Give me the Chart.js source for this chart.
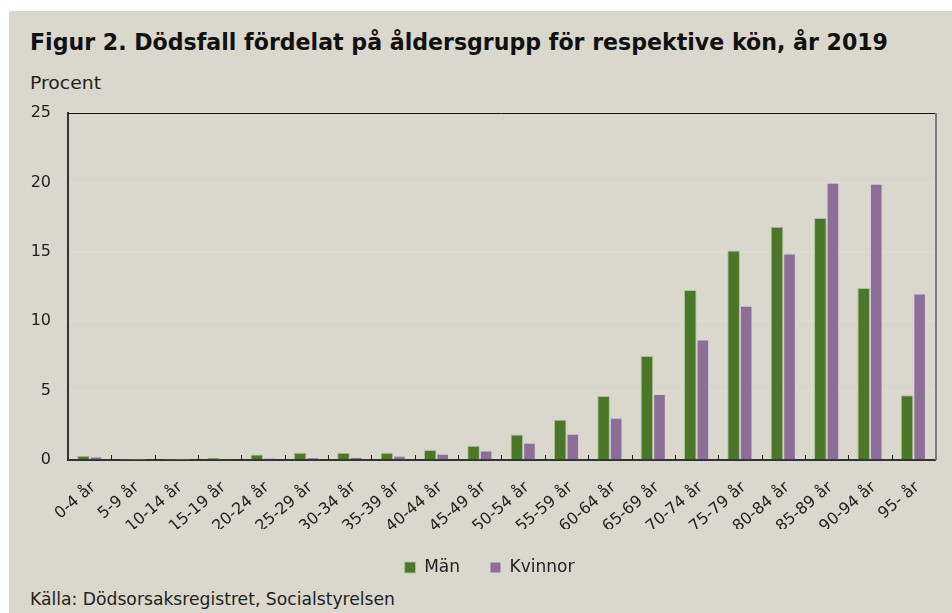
<!DOCTYPE html>
<html>
<head>
<meta charset="utf-8">
<script src="https://cdn.jsdelivr.net/npm/chart.js@4.4.1/dist/chart.umd.min.js"></script>
<style>
  html, body { margin: 0; padding: 0; background: #fff; }
  body { width: 952px; height: 613px; position: relative; overflow: hidden;
         font-family: "DejaVu Sans", sans-serif; color: #222; }
  .bg { position: absolute; left: 9px; top: 11px; right: 0; bottom: 0; background: #dad8cc; }
  .txt { position: absolute; white-space: nowrap; transform-origin: 0 0; line-height: 1; }
  #title { left: 30px; top: 31px; font-size: 23px; font-weight: bold; color: #111; }
  #unit { left: 30px; top: 75px; font-size: 17px; }
  #source { left: 30px; top: 591px; font-size: 17px; }
  canvas { position: absolute; left: 0; top: 0; }
</style>
</head>
<body>
<div class="bg"></div>
<div class="txt fit" id="title" data-w="858">Figur 2. Dödsfall fördelat på åldersgrupp för respektive kön, år 2019</div>
<div class="txt fit" id="unit" data-w="71">Procent</div>
<div class="txt fit" id="source" data-w="365">Källa: Dödsorsaksregistret, Socialstyrelsen</div>
<canvas id="chart" width="952" height="613"></canvas>
<script>
    "use strict";

    var categories = ["0-4 år", "5-9 år", "10-14 år", "15-19 år", "20-24 år", "25-29 år", "30-34 år",
        "35-39 år", "40-44 år", "45-49 år", "50-54 år", "55-59 år", "60-64 år", "65-69 år",
        "70-74 år", "75-79 år", "80-84 år", "85-89 år", "90-94 år", "95- år"];

    // procent av dödsfallen per kön
    var manValues = [0.31, 0.01, 0.01, 0.17, 0.40, 0.53, 0.53, 0.53, 0.72, 1.03,
        1.84, 2.90, 4.61, 7.50, 12.25, 15.10, 16.80, 17.43, 12.39, 4.66];
    var kvinnorValues = [0.26, 0.01, 0.01, 0.10, 0.14, 0.19, 0.22, 0.31, 0.45, 0.69,
        1.24, 1.89, 3.05, 4.75, 8.68, 11.11, 14.87, 19.98, 19.90, 12.00];

    var yTicks = [0, 5, 10, 15, 20, 25];

    // squeeze the html texts to the width they have in the picture
    var fits = document.querySelectorAll(".fit");
    for(var i = 0; i < fits.length; i++) {
        var el = fits[i];
        var w = el.getBoundingClientRect().width;
        el.style.transform = "scaleX(" + (parseFloat(el.getAttribute("data-w")) / w) + ")";
    }

    var framePlugin = {
        id: "frame",
        afterLayout: function(chart) {
            // legend sits centred under the plot, not under the whole canvas
            var shift = 22;
            chart.legend.left += shift;
            chart.legend.right += shift;
        },
        afterDatasetsDraw: function(chart) {
            var ctx = chart.ctx;
            var area = chart.chartArea;
            var x = chart.scales.x;
            ctx.save();
            ctx.strokeStyle = "#111";
            ctx.lineWidth = 1;
            ctx.beginPath();
            ctx.moveTo(area.left, area.top + 0.5);
            ctx.lineTo(area.right, area.top + 0.5);
            ctx.stroke();
            ctx.strokeStyle = "#7a7a7a";
            ctx.lineWidth = 2;
            ctx.beginPath();
            ctx.moveTo(area.right + 1, area.top);
            ctx.lineTo(area.right + 1, area.bottom);
            ctx.stroke();

            // small tick marks inside the plot, between the groups
            var step = (area.right - area.left) / categories.length;
            ctx.strokeStyle = "#222";
            ctx.lineWidth = 1;
            ctx.beginPath();
            for(var i = 1; i < categories.length; i++) {
                var px = Math.round(x.getPixelForValue(i) - step / 2) + 0.5;
                ctx.moveTo(px, area.bottom);
                ctx.lineTo(px, area.bottom - 5);
            }
            ctx.stroke();
            ctx.restore();
        }
    };

    new Chart(document.getElementById("chart"), {
        type: "bar",
        data: {
            labels: categories,
            datasets: [{
                label: "Män",
                data: manValues,
                backgroundColor: "#4b7729",
                borderColor: "#a9c296",
                borderWidth: 1,
                categoryPercentage: 0.58,
                barPercentage: 1
            }, {
                label: "Kvinnor",
                data: kvinnorValues,
                backgroundColor: "#8c6e96",
                borderColor: "#dccfe2",
                borderWidth: 1,
                categoryPercentage: 0.58,
                barPercentage: 1
            }]
        },
        options: {
            responsive: false,
            animation: false,
            layout: { padding: { left: 0, right: 17, top: 113, bottom: 27 } },
            plugins: {
                tooltip: { enabled: false },
                legend: {
                    position: "bottom",
                    labels: {
                        boxWidth: 11,
                        boxHeight: 11,
                        padding: 30,
                        color: "#222",
                        font: { family: "DejaVu Sans", size: 17 }
                    }
                }
            },
            scales: {
                x: {
                    grid: { display: false },
                    border: { display: true, color: "#333", width: 2 },
                    ticks: {
                        color: "#222",
                        font: { family: "DejaVu Sans", size: 16 },
                        minRotation: 40,
                        maxRotation: 40,
                        autoSkip: false,
                        padding: 10,
                        labelOffset: 4
                    },
                    afterFit: function(scale) { scale.height = 69; }
                },
                y: {
                    min: 0,
                    max: 25,
                    afterBuildTicks: function(scale) {
                        scale.ticks = yTicks.map(function(v) { return { value: v }; });
                    },
                    grid: { color: "#dedcd0", lineWidth: 1.5, drawTicks: false },
                    border: { display: true, color: "#333", width: 2 },
                    ticks: {
                        color: "#222",
                        padding: 17,
                        font: { family: "DejaVu Sans", size: 16 }
                    },
                    afterFit: function(scale) { scale.width = 68; }
                }
            }
        },
        plugins: [framePlugin]
    });
</script>
</body>
</html>
